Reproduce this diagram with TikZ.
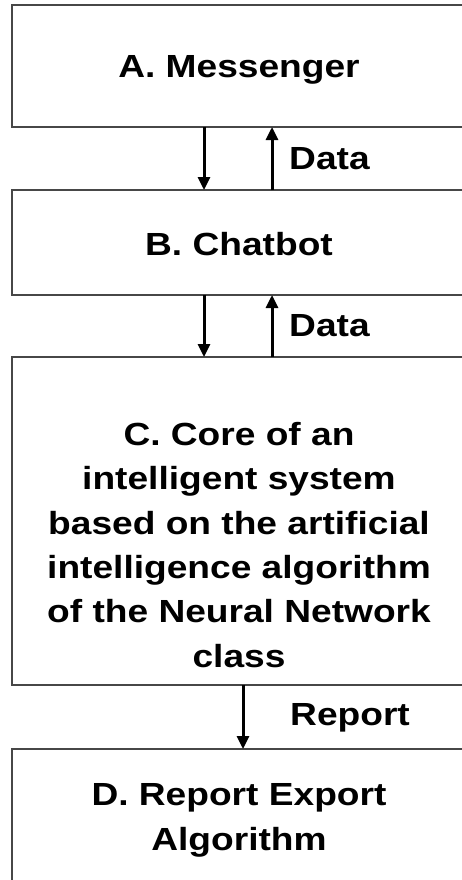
\documentclass[tikz,border=0pt]{standalone}
\usepackage{fontspec}
\setmainfont[FakeStretch=1.16]{Liberation Sans}
\usetikzlibrary{arrows.meta}
\begin{document}
\begin{tikzpicture}[x=1pt,y=-1pt,
  box/.style={draw=black!72,line width=2pt,rectangle,inner sep=0pt,outer sep=0pt,anchor=north west},
  lbl/.style={font=\fontsize{32}{44.3}\selectfont\bfseries,inner sep=0pt,anchor=base,align=center},
  side/.style={font=\fontsize{32}{40}\selectfont\bfseries,inner sep=0pt,anchor=base west},
  arr/.style={line width=3pt,-{Triangle[length=13pt,width=12pt]}}]
\useasboundingbox[fill=white] (0,0) rectangle (461,880);
\node[box,minimum width=454pt,minimum height=122pt] (A) at (12,5) {};
\node[box,minimum width=454pt,minimum height=105pt] (B) at (12,190) {};
\node[box,minimum width=454pt,minimum height=328pt] (C) at (12,357) {};
\node[box,minimum width=454pt,minimum height=160pt] (D) at (12,749) {};
\node[lbl] (tA) at (239,78) {A. Messenger};
\node[lbl] (tB) at (239,255) {B. Chatbot};
\node[lbl] (tC) at (239,667) {C. Core of an\\intelligent system\\based on the artificial\\intelligence algorithm\\of the Neural Network\\class};
\node[lbl] (tD) at (239,850) {D. Report Export\\Algorithm};
\coordinate (x1) at (204,0);
\coordinate (x2) at (272,0);
\coordinate (x3) at (243,0);
\draw[arr] (A.south -| x1) -- (B.north -| x1);
\draw[arr] (B.north -| x2) -- (A.south -| x2);
\draw[arr] (B.south -| x1) -- (C.north -| x1);
\draw[arr] (C.north -| x2) -- (B.south -| x2);
\draw[arr] (C.south -| x3) -- (D.north -| x3);
\node[side] (d1) at (289,169) {Data};
\node[side] (d2) at (289,336) {Data};
\node[side] (r1) at (290,725) {Report};
\end{tikzpicture}
\end{document}
